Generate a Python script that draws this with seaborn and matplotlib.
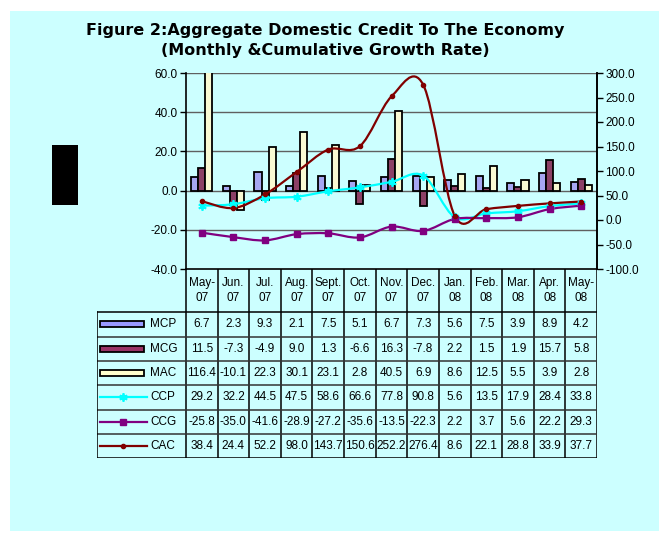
import matplotlib
matplotlib.use("Agg")
import matplotlib.pyplot as plt
from matplotlib.patches import Rectangle, PathPatch
from matplotlib.path import Path
import numpy as np
import pandas as pd
import seaborn as sns

months = ["May-\n07", "Jun.\n07", "Jul.\n07", "Aug.\n07", "Sept.\n07", "Oct.\n07",
          "Nov.\n07", "Dec.\n07", "Jan.\n08", "Feb.\n08", "Mar.\n08", "Apr.\n08", "May-\n08"]
MCP = [6.7, 2.3, 9.3, 2.1, 7.5, 5.1, 6.7, 7.3, 5.6, 7.5, 3.9, 8.9, 4.2]
MCG = [11.5, -7.3, -4.9, 9.0, 1.3, -6.6, 16.3, -7.8, 2.2, 1.5, 1.9, 15.7, 5.8]
MAC = [116.4, -10.1, 22.3, 30.1, 23.1, 2.8, 40.5, 6.9, 8.6, 12.5, 5.5, 3.9, 2.8]
CCP = [29.2, 32.2, 44.5, 47.5, 58.6, 66.6, 77.8, 90.8, 5.6, 13.5, 17.9, 28.4, 33.8]
CCG = [-25.8, -35.0, -41.6, -28.9, -27.2, -35.6, -13.5, -22.3, 2.2, 3.7, 5.6, 22.2, 29.3]
CAC = [38.4, 24.4, 52.2, 98.0, 143.7, 150.6, 252.2, 276.4, 8.6, 22.1, 28.8, 33.9, 37.7]
bar_names = ["MCP", "MCG", "MAC"]
line_names = ["CCP", "CCG", "CAC"]
left_ticks = [-40, -20, 0, 20, 40, 60]
right_ticks = [-100, -50, 0, 50, 100, 150, 200, 250, 300]

bar_colors = {"MCP": "#9999FF", "MCG": "#993366", "MAC": "#FFFFCC"}
line_styles = {
    "CCP": dict(color="#00FFFF", marker=(6, 2, 0), ms=6, mew=1.3),
    "CCG": dict(color="#800080", marker="s", ms=4, mew=1.0),
    "CAC": dict(color="#800000", marker="o", ms=3, mew=1.0),
}

W, H = 659, 533
BG = "#CCFFFF"
FONT = "Liberation Sans"
FS = 8.5
plt.rcParams["font.family"] = [FONT, "DejaVu Sans"]

fig = plt.figure(figsize=(W / 100, H / 100), dpi=100)
fig.patch.set_facecolor("white")
fig.add_artist(Rectangle((10 / W, 1 - 531 / H), (W - 10) / W, (531 - 11) / H,
                         transform=fig.transFigure, facecolor=BG, edgecolor="none", zorder=0))
fig.add_artist(Rectangle((52 / W, 1 - 205 / H), 26 / W, 60 / H,
                         transform=fig.transFigure, facecolor="black", edgecolor="none", zorder=1))

fig.text(325 / W, 1 - 30 / H, "Figure 2:Aggregate Domestic Credit To The Economy",
         ha="center", va="center", fontsize=11.5, fontweight="bold", family="DejaVu Sans")
fig.text(325 / W, 1 - 50 / H, "(Monthly &Cumulative Growth Rate)",
         ha="center", va="center", fontsize=11.5, fontweight="bold", family="DejaVu Sans")

x0, x1, ytop, ybot = 186, 597, 73, 269
ax = fig.add_axes([x0 / W, 1 - ybot / H, (x1 - x0) / W, (ybot - ytop) / H])
ax.set_facecolor("none")

df = pd.DataFrame({
    "month": np.tile(months, 3),
    "series": np.repeat(bar_names, len(months)),
    "value": MCP + MCG + MAC,
})
sns.barplot(data=df, x="month", y="value", hue="series", order=months,
            hue_order=bar_names, palette=bar_colors, width=0.67, gap=0,
            edgecolor="black", linewidth=1.3, ax=ax, legend=False, zorder=3)
ax.set_xlim(-0.5, len(months) - 0.5)
ax.set_ylim(-40, 60)
ax.set_yticks(left_ticks)
ax.set_yticklabels([f"{v:.1f}" for v in left_ticks], fontsize=FS)
ax.set_xticks([])
ax.set_xlabel("")
ax.set_ylabel("")
for v in [-20, 0, 20, 40, 60]:
    ax.axhline(v, color="#606060", lw=1.0, zorder=1)
for s in ["left", "bottom", "right"]:
    ax.spines[s].set_color("black")
    ax.spines[s].set_linewidth(1.2)
ax.spines["top"].set_visible(False)
ax.tick_params(axis="y", direction="out", length=4, width=1, pad=2)

ax2 = ax.twinx()
ax2.set_ylim(-100, 300)
ax2.set_yticks(right_ticks)
ax2.set_yticklabels([f"{v:.1f}" for v in right_ticks], fontsize=FS)
ax2.tick_params(axis="y", direction="out", length=4, width=1, pad=2)
for s in ["left", "bottom", "top"]:
    ax2.spines[s].set_visible(False)
ax2.spines["right"].set_linewidth(1.2)


def smooth_path(xs, ys):
    pts = np.column_stack([xs, ys]).astype(float)
    n = len(pts)
    verts = [pts[0]]
    codes = [Path.MOVETO]
    for i in range(n - 1):
        p0 = pts[i - 1] if i > 0 else pts[i]
        p1 = pts[i]
        p2 = pts[i + 1]
        p3 = pts[i + 2] if i + 2 < n else pts[i + 1]
        c1 = p1 + (p2 - p0) / 6.0
        c2 = p2 - (p3 - p1) / 6.0
        verts += [c1, c2, p2]
        codes += [Path.CURVE4] * 3
    return Path(verts, codes)


xs = np.arange(len(months))
series_vals = {"CCP": CCP, "CCG": CCG, "CAC": CAC}
for name in line_names:
    st = line_styles[name]
    ax2.add_patch(PathPatch(smooth_path(xs, series_vals[name]), facecolor="none",
                            edgecolor=st["color"], lw=1.6, zorder=4))
    ax2.plot(xs, series_vals[name], linestyle="none", marker=st["marker"],
             ms=st["ms"], mew=st["mew"], color=st["color"], mfc=st["color"], zorder=5)

# ---- data table ----
tx0, tyb = 97, 458
tax = fig.add_axes([tx0 / W, 1 - tyb / H, (x1 - tx0) / W, (tyb - ybot) / H])
colw = (x1 - x0) / len(months)
left_col = -0.5 - (x0 - tx0) / colw
tax.set_xlim(left_col, len(months) - 0.5)
tax.set_ylim(tyb, ybot)
tax.axis("off")


def px(xp):
    return left_col + (xp - tx0) / colw


row_edges = [311.5, 336.5, 361, 385, 409.5, 434, 458]
for i in range(len(months) + 1):
    tax.plot([i - 0.5, i - 0.5], [ybot, tyb], color="black", lw=1.1, solid_capstyle="butt")
for y in row_edges:
    tax.plot([left_col, len(months) - 0.5], [y, y],
             color="#333333" if y not in (311.5, 458) else "black",
             lw=1.1, solid_capstyle="butt")
tax.plot([left_col, left_col], [row_edges[0], tyb], color="black", lw=1.1)

for i, m in enumerate(months):
    a, b = m.split("\n")
    tax.text(i, 283, a, ha="center", va="center", fontsize=FS)
    tax.text(i, 298, b, ha="center", va="center", fontsize=FS)

all_vals = {"MCP": MCP, "MCG": MCG, "MAC": MAC, "CCP": CCP, "CCG": CCG, "CAC": CAC}
for r, name in enumerate(bar_names + line_names):
    yc = (row_edges[r] + row_edges[r + 1]) / 2
    for i, v in enumerate(all_vals[name]):
        tax.text(i, yc, f"{v:.1f}", ha="center", va="center", fontsize=FS)
    tax.text(px(150), yc, name, ha="left", va="center", fontsize=FS)
    if name in bar_colors:
        tax.add_patch(Rectangle((px(100), yc - 3), px(144) - px(100), 6,
                                facecolor=bar_colors[name], edgecolor="black", lw=1.3))
    else:
        st = line_styles[name]
        tax.plot([px(100), px(147)], [yc, yc], color=st["color"], lw=1.6)
        tax.plot([px(123)], [yc], linestyle="none", marker=st["marker"], ms=st["ms"],
                 mew=st["mew"], color=st["color"])

fig.savefig("out.png", dpi=100, facecolor=fig.get_facecolor())
